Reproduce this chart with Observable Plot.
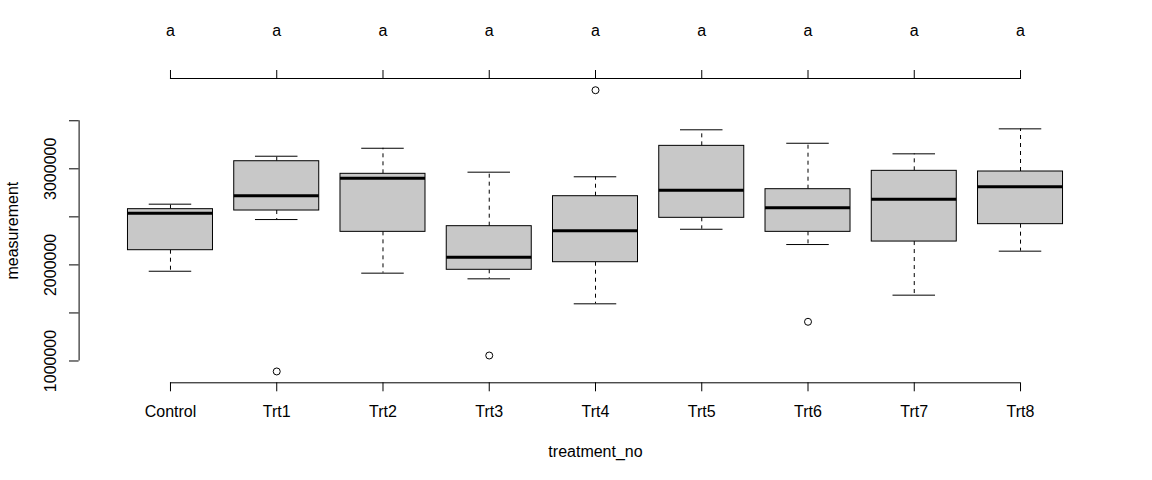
<!DOCTYPE html>
<html>
<head>
<meta charset="utf-8">
<script src="https://cdn.jsdelivr.net/npm/d3@7"></script>
<script src="https://cdn.jsdelivr.net/npm/@observablehq/plot@0.6"></script>
<style>
  html, body { margin: 0; padding: 0; background: #ffffff; }
  #chart { width: 1152px; height: 480px; }
</style>
</head>
<body>
<div id="chart"></div>
<script>
// ---- data ----
const treatments   = ["Control", "Trt1", "Trt2", "Trt3", "Trt4", "Trt5", "Trt6", "Trt7", "Trt8"];
const groupLetters = ["a", "a", "a", "a", "a", "a", "a", "a", "a"];
const whiskerLow   = [1934000, 2472000, 1914000, 1855000, 1595000, 2371000, 2212000, 1685000, 2143000];
const quartile1    = [2153000, 2566000, 2344000, 1949000, 2028000, 2490000, 2344000, 2243000, 2424000];
const medians      = [2538000, 2719000, 2902000, 2080000, 2355000, 2777000, 2594000, 2684000, 2813000];
const quartile3    = [2580000, 3079000, 2948000, 2403000, 2715000, 3239000, 2788000, 2979000, 2972000];
const whiskerHigh  = [2632000, 3131000, 3214000, 2965000, 2917000, 3406000, 3266000, 3156000, 3416000];
const outlierGroup = ["Trt1", "Trt3", "Trt4", "Trt6"];
const outlierValue = [891000, 1057000, 3818000, 1408000];
const yTicks       = [1000000, 1500000, 2000000, 2500000, 3000000, 3500000];
const yLabelTicks  = [1000000, 2000000, 3000000];

// ---- tables built from the arrays ----
const boxes = treatments.map((t, i) => ({
  t, pos: i + 1,
  lo: whiskerLow[i], q1: quartile1[i], med: medians[i], q3: quartile3[i], hi: whiskerHigh[i]
}));
const outliers = outlierGroup.map((g, i) => ({pos: treatments.indexOf(g) + 1, value: outlierValue[i]}));
const positions = boxes.map(d => d.pos);
const n = boxes.length;
const halfBox = 0.4, halfCap = 0.2;

const chart = Plot.plot({
  width: 1152,
  height: 480,
  marginLeft: 78.6,
  marginRight: 40.6,
  marginTop: 78,
  marginBottom: 97.7,
  style: {fontFamily: "'Liberation Sans', Arial, Helvetica, sans-serif", fontSize: "16px", background: "#ffffff", color: "#000000"},
  x: {type: "linear", domain: [0.14, n + 0.86]},
  y: {type: "linear", domain: [773000, 3940000]},
  marks: [
    // whiskers (dashed)
    Plot.ruleX(boxes, {x: "pos", y1: "q3", y2: "hi", stroke: "#000", strokeDasharray: "4,4"}),
    Plot.ruleX(boxes, {x: "pos", y1: "q1", y2: "lo", stroke: "#000", strokeDasharray: "4,4"}),
    // staples
    Plot.ruleY(boxes, {y: "hi", x1: d => d.pos - halfCap, x2: d => d.pos + halfCap, stroke: "#000"}),
    Plot.ruleY(boxes, {y: "lo", x1: d => d.pos - halfCap, x2: d => d.pos + halfCap, stroke: "#000"}),
    // boxes
    Plot.rect(boxes, {x1: d => d.pos - halfBox, x2: d => d.pos + halfBox, y1: "q1", y2: "q3", fill: "#c8c8c8", stroke: "#000", strokeWidth: 1}),
    // medians
    Plot.ruleY(boxes, {y: "med", x1: d => d.pos - halfBox, x2: d => d.pos + halfBox, stroke: "#000", strokeWidth: 3}),
    // outliers
    Plot.dot(outliers, {x: "pos", y: "value", r: 3.5, stroke: "#000", fill: "none", strokeWidth: 1}),

    // bottom axis
    Plot.ruleY([773000], {x1: positions[0], x2: positions[n - 1], stroke: "#000"}),
    Plot.axisX({anchor: "bottom", ticks: positions, tickFormat: i => treatments[i - 1], tickSize: 9, tickPadding: 14, fontSize: 16, label: null}),
    // top axis with group letters
    Plot.ruleY([3940000], {x1: positions[0], x2: positions[n - 1], stroke: "#000"}),
    Plot.axisX({anchor: "top", ticks: positions, tickFormat: i => groupLetters[i - 1], tickSize: 9, tickPadding: 33.3, fontSize: 16, label: null}),
    // left axis
    Plot.ruleX([0.14], {y1: yTicks[0], y2: yTicks[yTicks.length - 1], stroke: "#000"}),
    Plot.axisY({anchor: "left", ticks: yTicks, tickSize: 9.6, tickFormat: () => "", label: null}),
    Plot.text(yLabelTicks, {y: d => d, text: d => String(d), frameAnchor: "left", textAnchor: "middle", lineAnchor: "middle", dx: -28.7, rotate: -90, fontSize: 16, fill: "#000"}),

    // axis titles
    Plot.text(["measurement"], {frameAnchor: "left", textAnchor: "middle", lineAnchor: "middle", dx: -66.4, rotate: -90, fontSize: 16, fill: "#000"}),
    Plot.text(["treatment_no"], {frameAnchor: "bottom", textAnchor: "middle", lineAnchor: "middle", dy: 68.6, fontSize: 16, fill: "#000"})
  ]
});
document.getElementById("chart").appendChild(chart);
</script>
</body>
</html>
